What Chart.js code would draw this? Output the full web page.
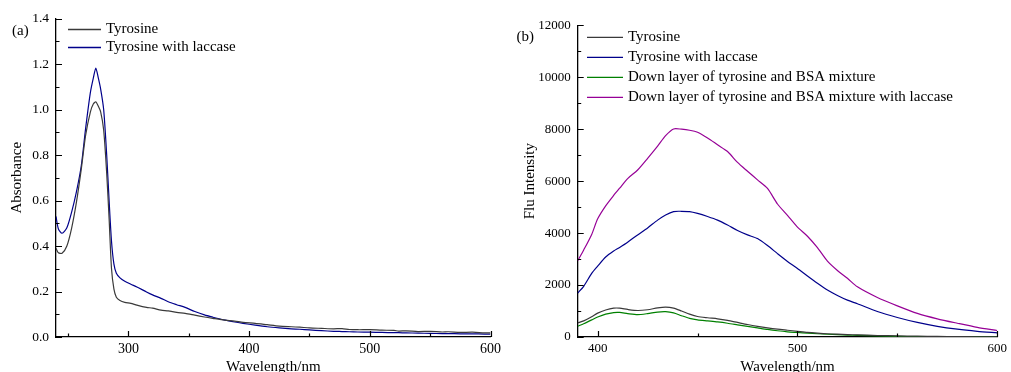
<!DOCTYPE html>
<html>
<head>
<meta charset="utf-8">
<script src="https://cdn.jsdelivr.net/npm/chart.js@4.4.0/dist/chart.umd.min.js"></script>
<style>
  html, body { margin: 0; padding: 0; background: #fff; }
  #wrap { position: relative; width: 1011px; height: 372px; overflow: hidden; }
  .box { position: absolute; top: 0; height: 372px; }
  #boxA { left: 0; width: 505px; }
  #boxB { left: 505px; width: 506px; }
</style>
</head>
<body>
<div id="wrap">
  <div class="box" id="boxA"><canvas id="chartA"></canvas></div>
  <div class="box" id="boxB"><canvas id="chartB"></canvas></div>
</div>
<script>
// (a) absorbance spectra
const wlA = [240, 242, 245, 249, 253, 257, 261, 264.5, 268.5, 271, 273, 275, 277, 279.5, 282, 284, 286, 288, 290, 293,
  297, 302, 307, 315, 320, 327, 333, 340, 347, 355, 363, 370, 380, 388, 395, 405, 415, 425, 435, 442,
  450, 460, 470, 477, 483, 490, 500, 510, 520, 524, 530, 540, 550, 560, 565, 575, 585, 595, 600];
const absTyr = [0.39, 0.37, 0.368, 0.40, 0.48, 0.595, 0.74, 0.885, 0.99, 1.025, 1.034, 1.015, 0.99, 0.91, 0.72, 0.52, 0.30, 0.21, 0.175, 0.16,
  0.152, 0.148, 0.14, 0.13, 0.127, 0.118, 0.115, 0.108, 0.104, 0.096, 0.088, 0.082, 0.074, 0.07, 0.064, 0.06, 0.054, 0.048, 0.045, 0.043,
  0.04, 0.038, 0.036, 0.037, 0.033, 0.032, 0.032, 0.03, 0.029, 0.026, 0.027, 0.024, 0.025, 0.022, 0.023, 0.02, 0.021, 0.018, 0.018];
const absTyrLac = [0.53, 0.475, 0.456, 0.48, 0.55, 0.64, 0.755, 0.915, 1.075, 1.14, 1.182, 1.14, 1.09, 1.0, 0.80, 0.60, 0.42, 0.32, 0.28, 0.26,
  0.245, 0.232, 0.22, 0.198, 0.185, 0.17, 0.155, 0.142, 0.13, 0.112, 0.097, 0.087, 0.074, 0.066, 0.06, 0.052, 0.045, 0.04, 0.036, 0.034,
  0.031, 0.028, 0.025, 0.024, 0.023, 0.022, 0.021, 0.02, 0.019, 0.019, 0.018, 0.017, 0.016, 0.015, 0.015, 0.014, 0.014, 0.013, 0.013];
const xTicksA = [300, 400, 500, 600];
const xMinorA = [250, 350, 450, 550];
const yTicksA = [0, 0.2, 0.4, 0.6, 0.8, 1.0, 1.2, 1.4];
const yMinorA = [0.1, 0.3, 0.5, 0.7, 0.9, 1.1, 1.3];

// (b) fluorescence spectra
const wlB = [390, 393, 397, 400, 404, 408, 411, 415, 420, 425, 430, 434, 438, 442, 446, 450, 455, 460, 465, 470,
  475, 480, 485, 490, 495, 500, 505, 510, 515, 520, 525, 530, 540, 550, 560, 570, 580, 590, 600];
const fluTyr = [540, 620, 780, 920, 1040, 1110, 1110, 1060, 1020, 1050, 1120, 1150, 1110, 1000, 880, 790, 740, 700, 640, 560,
  480, 410, 350, 300, 260, 220, 180, 150, 125, 110, 95, 80, 58, 42, 30, 22, 15, 10, 8];
const fluTyrLac = [1692, 1950, 2450, 2730, 3080, 3310, 3450, 3650, 3930, 4200, 4500, 4700, 4830, 4840, 4830, 4760, 4640, 4500, 4310, 4100,
  3930, 3790, 3520, 3210, 2910, 2640, 2350, 2070, 1810, 1600, 1420, 1280, 980, 750, 560, 410, 300, 220, 160];
const fluDown = [420, 510, 660, 770, 880, 940, 945, 900, 860, 900, 960, 975, 930, 820, 720, 660, 620, 580, 530, 470,
  410, 350, 290, 240, 200, 175, 150, 125, 105, 90, 75, 62, 40, 25, 15, 10, 6, 3, 2];
const fluDownLac = [2935, 3350, 3950, 4550, 5050, 5450, 5730, 6100, 6430, 6880, 7350, 7750, 8010, 8000, 7960, 7880, 7660, 7400, 7140, 6720,
  6380, 6050, 5720, 5120, 4680, 4230, 3880, 3440, 2920, 2560, 2260, 1930, 1520, 1200, 910, 700, 530, 370, 250];
const xTicksB = [400, 500, 600];
const xMinorB = [450, 550];
const yTicksB = [0, 2000, 4000, 6000, 8000, 10000, 12000];
const yMinorB = [1000, 3000, 5000, 7000, 9000, 11000];

const serif = "'Liberation Serif', 'Times New Roman', serif";
Chart.defaults.font.family = serif;
Chart.defaults.color = '#000';

function pts(xs, ys) {
  return xs.map((x, i) => ({ x: x, y: ys[i] }));
}
function line(label, color, xs, ys) {
  return { label: label, data: pts(xs, ys), borderColor: color, borderWidth: 1.2,
    pointRadius: 0, tension: 0.25, fill: false };
}

// ticks pointing into the plot, like the original
const innerTicks = {
  id: 'innerTicks',
  afterDatasetsDraw(chart, args, o) {
    const ctx = chart.ctx;
    const { left, bottom } = chart.chartArea;
    const xs = chart.scales.x, ys = chart.scales.y;
    ctx.save();
    ctx.strokeStyle = '#000';
    ctx.lineWidth = 1.2;
    ctx.beginPath();
    const tx = (vals, len) => vals.forEach(v => {
      const p = Math.round(xs.getPixelForValue(v)) + 0.5;
      ctx.moveTo(p, bottom); ctx.lineTo(p, bottom - len);
    });
    const ty = (vals, len) => vals.forEach(v => {
      const p = Math.round(ys.getPixelForValue(v)) + 0.5;
      ctx.moveTo(left, p); ctx.lineTo(left + len, p);
    });
    tx(o.xMajor, 6); tx(o.xMinor, 3.5);
    ty(o.yMajor, 6); ty(o.yMinor, 3.5);
    ctx.stroke();
    ctx.restore();
  }
};

const sideLegend = {
  id: 'sideLegend',
  afterDraw(chart, args, o) {
    const ctx = chart.ctx;
    ctx.save();
    ctx.font = '15px ' + serif;
    ctx.textBaseline = 'middle';
    ctx.textAlign = 'left';
    chart.data.datasets.forEach((ds, i) => {
      const y = o.y + i * o.gap;
      ctx.strokeStyle = ds.borderColor;
      ctx.lineWidth = 1.3;
      ctx.beginPath();
      ctx.moveTo(o.x, y); ctx.lineTo(o.x + o.len, y);
      ctx.stroke();
      ctx.fillStyle = '#000';
      ctx.fillText(ds.label, o.x + o.len + 5, y);
    });
    ctx.fillText(o.panel, o.px, o.py);
    ctx.restore();
  }
};

function axes(xMin, xMax, xTicks, yMax, yTicks, yWidth, yFmt, xFont, yFont, yTitle, yTitlePad) {
  return {
    x: {
      type: 'linear', min: xMin, max: xMax,
      afterBuildTicks: s => { s.ticks = xTicks.map(v => ({ value: v })); },
      afterFit: s => { s.height = 35; },
      grid: { display: false, drawTicks: false },
      border: { display: true, color: '#000', width: 1.3 },
      ticks: { autoSkip: false, maxRotation: 0, padding: 4, font: { size: xFont } },
      title: { display: true, text: 'Wavelength/nm', font: { size: 15 }, padding: { top: 0, bottom: -4 } }
    },
    y: {
      min: 0, max: yMax,
      afterBuildTicks: s => { s.ticks = yTicks.map(v => ({ value: v })); },
      afterFit: s => { s.width = yWidth; },
      grid: { display: false, drawTicks: false },
      border: { display: true, color: '#000', width: 1.3 },
      ticks: { autoSkip: false, padding: 7, font: { size: yFont }, callback: yFmt },
      title: { display: true, text: yTitle, font: { size: 15 }, padding: { top: yTitlePad, bottom: 0 } }
    }
  };
}

new Chart(document.getElementById('chartA'), {
  type: 'line',
  data: {
    datasets: [
      line('Tyrosine', '#3a3a3a', wlA, absTyr),
      line('Tyrosine with laccase', '#00008b', wlA, absTyrLac)
    ]
  },
  options: {
    responsive: true, maintainAspectRatio: false, animation: false,
    layout: { padding: { top: 18.5, right: 9, bottom: 0, left: 0 } },
    scales: axes(240, 600, xTicksA, 1.4, yTicksA, 56, v => v.toFixed(1), 14, 13.5, 'Absorbance', 8.5),
    plugins: {
      legend: { display: false }, tooltip: { enabled: false },
      innerTicks: { xMajor: xTicksA, xMinor: xMinorA, yMajor: yTicksA, yMinor: yMinorA },
      sideLegend: { x: 68, y: 29.5, gap: 18, len: 33, panel: '(a)', px: 12, py: 31 }
    }
  },
  plugins: [innerTicks, sideLegend]
});

new Chart(document.getElementById('chartB'), {
  type: 'line',
  data: {
    datasets: [
      line('Tyrosine', '#3a3a3a', wlB, fluTyr),
      line('Tyrosine with laccase', '#00008b', wlB, fluTyrLac),
      line('Down layer of tyrosine and BSA mixture', '#008000', wlB, fluDown),
      line('Down layer of tyrosine and BSA mixture with laccase', '#960096', wlB, fluDownLac)
    ]
  },
  options: {
    responsive: true, maintainAspectRatio: false, animation: false,
    layout: { padding: { top: 25.3, right: 9, bottom: 0, left: 0 } },
    scales: axes(390, 600, xTicksB, 12000, yTicksB, 72.7, v => String(v), 13, 13, 'Flu Intensity', 16),
    plugins: {
      legend: { display: false }, tooltip: { enabled: false },
      innerTicks: { xMajor: xTicksB, xMinor: xMinorB, yMajor: yTicksB, yMinor: yMinorB },
      sideLegend: { x: 82, y: 37.3, gap: 20, len: 36, panel: '(b)', px: 11.5, py: 37 }
    }
  },
  plugins: [innerTicks, sideLegend]
});
</script>
</body>
</html>
